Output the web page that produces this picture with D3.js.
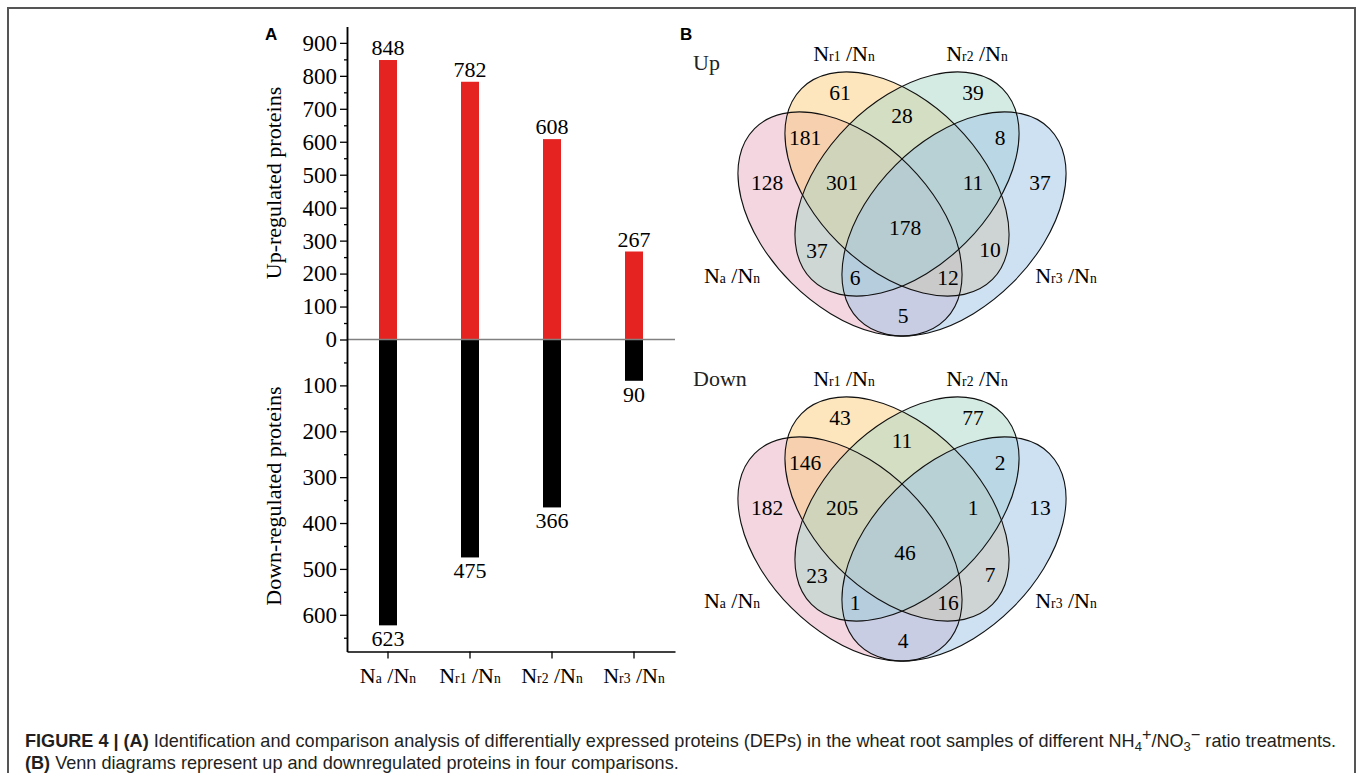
<!DOCTYPE html>
<html>
<head>
<meta charset="utf-8">
<script src="https://cdn.jsdelivr.net/npm/d3@7"></script>
<style>
  html, body { margin: 0; padding: 0; background: #fff; }
  svg { display: block; }
</style>
</head>
<body>
<svg id="fig" width="1357" height="773"></svg>
<script>
// ---------------- DATA ----------------
const comparisons = ["Na", "Nr1", "Nr2", "Nr3"];          // Nx / Nn
const compSubs = ["a", "r1", "r2", "r3"];
const upRegulated = [848, 782, 608, 267];
const downRegulated = [623, 475, 366, 90];
const upTicks = [0, 100, 200, 300, 400, 500, 600, 700, 800, 900];
const downTicks = [100, 200, 300, 400, 500, 600];

// Venn regions: A=Na/Nn, B=Nr1/Nn, C=Nr2/Nn, D=Nr3/Nn
const vennRegions = ["A", "B", "C", "D", "AB", "BC", "CD", "AC", "BD", "AD", "ABC", "BCD", "ACD", "ABD", "ABCD"];
const vennUp =   [128, 61, 39, 37, 181, 28, 8, 37, 10, 5, 301, 11, 6, 12, 178];
const vennDown = [182, 43, 77, 13, 146, 11, 2, 23, 7, 4, 205, 1, 1, 16, 46];
const vennSetSubs = ["a", "r1", "r2", "r3"];

// ---------------- LAYOUT ----------------
const svg = d3.select("#fig");
const serif = '"Liberation Serif", "Times New Roman", serif';
const sans = '"Liberation Sans", Arial, Helvetica, sans-serif';

// frame
svg.append("rect").attr("x", 8).attr("y", 8).attr("width", 1347).attr("height", 820)
  .attr("fill", "none").attr("stroke", "#555").attr("stroke-width", 2);

// ---- Panel A: bar chart ----
const axisX = 347, zeroY = 339.5;
const x = d3.scaleBand().domain(comparisons).range([axisX, 675]).padding(0);
const yUp = d3.scaleLinear().domain([0, 950]).range([zeroY, 26.4]);
const yDown = d3.scaleLinear().domain([0, 680]).range([zeroY, 651.5]);
const barW = 18;

const gA = svg.append("g");

gA.append("text").attr("x", 265).attr("y", 40).attr("font-family", sans)
  .attr("font-weight", "bold").attr("font-size", 17).text("A");

// bars
gA.selectAll("rect.up").data(comparisons).join("rect")
  .attr("x", d => x(d) + x.bandwidth() / 2 - barW / 2)
  .attr("y", (d, i) => yUp(upRegulated[i]))
  .attr("width", barW)
  .attr("height", (d, i) => yUp(0) - yUp(upRegulated[i]))
  .attr("fill", "#e52421");
gA.selectAll("rect.down").data(comparisons).join("rect")
  .attr("x", d => x(d) + x.bandwidth() / 2 - barW / 2)
  .attr("y", yDown(0))
  .attr("width", barW)
  .attr("height", (d, i) => yDown(downRegulated[i]) - yDown(0))
  .attr("fill", "#000");

// zero line
gA.append("line").attr("x1", axisX).attr("x2", 675).attr("y1", zeroY).attr("y2", zeroY)
  .attr("stroke", "#808080").attr("stroke-width", 1.5);

// value labels
gA.selectAll("text.upv").data(comparisons).join("text")
  .attr("x", d => x(d) + x.bandwidth() / 2)
  .attr("y", (d, i) => yUp(upRegulated[i]) - 5)
  .attr("text-anchor", "middle").attr("font-family", serif).attr("font-size", 22)
  .text((d, i) => upRegulated[i]);
gA.selectAll("text.downv").data(comparisons).join("text")
  .attr("x", d => x(d) + x.bandwidth() / 2)
  .attr("y", (d, i) => yDown(downRegulated[i]) + 21)
  .attr("text-anchor", "middle").attr("font-family", serif).attr("font-size", 22)
  .text((d, i) => downRegulated[i]);

// y axes
function styleAxis(g) {
  g.selectAll("path.domain").attr("stroke", "#000").attr("stroke-width", 1.5);
  g.selectAll(".tick line").attr("stroke", "#000").attr("stroke-width", 1.3);
  g.selectAll(".tick text").attr("font-family", serif).attr("font-size", 23).attr("fill", "#000");
}
const upAxis = gA.append("g").attr("transform", `translate(${axisX},0)`)
  .call(d3.axisLeft(yUp).tickValues(upTicks).tickSize(7).tickPadding(3).tickSizeOuter(0));
styleAxis(upAxis);
const downAxis = gA.append("g").attr("transform", `translate(${axisX},0)`)
  .call(d3.axisLeft(yDown).tickValues(downTicks).tickSize(7).tickPadding(3).tickSizeOuter(0));
styleAxis(downAxis);
// minor ticks
const upMinor = gA.append("g").attr("transform", `translate(${axisX},0)`)
  .call(d3.axisLeft(yUp).tickValues(d3.range(50, 900, 100)).tickSize(3).tickFormat("").tickSizeOuter(0));
styleAxis(upMinor);
const downMinor = gA.append("g").attr("transform", `translate(${axisX},0)`)
  .call(d3.axisLeft(yDown).tickValues(d3.range(50, 700, 100)).tickSize(3).tickFormat("").tickSizeOuter(0));
styleAxis(downMinor);

// x axis
const xAxisG = gA.append("g").attr("transform", `translate(0,${yDown.range()[1]})`)
  .call(d3.axisBottom(x).tickSize(7).tickFormat("").tickSizeOuter(0));
styleAxis(xAxisG);

function compLabel(sel, sub) {
  sel.append("tspan").text("N");
  sel.append("tspan").attr("font-size", "0.62em").text(sub);
  sel.append("tspan").text(" /N");
  sel.append("tspan").attr("font-size", "0.62em").text("n");
}
comparisons.forEach((c, i) => {
  const t = gA.append("text").attr("x", x(c) + x.bandwidth() / 2).attr("y", 683)
    .attr("text-anchor", "middle").attr("font-family", serif).attr("font-size", 22);
  compLabel(t, compSubs[i]);
});

// axis titles
gA.append("text").attr("transform", "translate(281,183) rotate(-90)")
  .attr("text-anchor", "middle").attr("font-family", serif).attr("font-size", 22)
  .text("Up-regulated proteins");
gA.append("text").attr("transform", "translate(281,496) rotate(-90)")
  .attr("text-anchor", "middle").attr("font-family", serif).attr("font-size", 22)
  .text("Down-regulated proteins");

// ---- Panel B: Venn diagrams ----
svg.append("text").attr("x", 680).attr("y", 40).attr("font-family", sans)
  .attr("font-weight", "bold").attr("font-size", 17).text("B");

// ellipse geometry, relative to venn origin (symmetry axis x, top y)
const ellipses = [
  { set: "A", cx: -52, cy: 224, rot: 45, fill: "#e8aec2" },
  { set: "B", cx: -5, cy: 184, rot: 45, fill: "#fccb7d" },
  { set: "C", cx: 5, cy: 184, rot: -45, fill: "#a9d8c8" },
  { set: "D", cx: 52, cy: 224, rot: -45, fill: "#9ec3e8" }
];
const rx = 135, ry = 83;
const anchors = {
  A: [-135, 182], B: [-62, 92], C: [71, 92], D: [138, 182],
  AB: [-97, 137], BC: [0, 115], CD: [98, 137], AC: [-85, 250],
  BD: [88, 249], AD: [1, 315], ABC: [-60, 182], BCD: [71, 182],
  ACD: [-47, 277], ABD: [46, 277], ABCD: [3, 227]
};
const setLabelPos = [
  { x: -170, y: 283 },
  { x: -58, y: 61 },
  { x: 75, y: 61 },
  { x: 164, y: 283 }
];

function drawVenn(originX, offsetY, counts, title, titleY) {
  const g = svg.append("g").attr("transform", `translate(${originX},${offsetY})`);
  g.selectAll("ellipse.fill").data(ellipses).join("ellipse")
    .attr("cx", d => d.cx).attr("cy", d => d.cy).attr("rx", rx).attr("ry", ry)
    .attr("transform", d => `rotate(${d.rot},${d.cx},${d.cy})`)
    .attr("fill", d => d.fill).attr("fill-opacity", 0.5).attr("stroke", "none");
  g.selectAll("ellipse.stroke").data(ellipses).join("ellipse")
    .attr("cx", d => d.cx).attr("cy", d => d.cy).attr("rx", rx).attr("ry", ry)
    .attr("transform", d => `rotate(${d.rot},${d.cx},${d.cy})`)
    .attr("fill", "none").attr("stroke", "#111").attr("stroke-width", 1.1);
  g.selectAll("text.cnt").data(vennRegions).join("text")
    .attr("x", d => anchors[d][0]).attr("y", d => anchors[d][1])
    .attr("dy", "0.35em").attr("text-anchor", "middle")
    .attr("font-family", serif).attr("font-size", 21.5)
    .text((d, i) => counts[i]);
  setLabelPos.forEach((p, i) => {
    const t = g.append("text").attr("x", p.x).attr("y", p.y)
      .attr("text-anchor", "middle").attr("font-family", serif).attr("font-size", 22);
    compLabel(t, vennSetSubs[i]);
  });
  g.append("text").attr("x", -209).attr("y", titleY).attr("font-family", serif)
    .attr("font-size", 22).attr("fill", "#222").text(title);
}
drawVenn(902, 0, vennUp, "Up", 70);
drawVenn(902, 325, vennDown, "Down", 61);

// ---- Caption ----
const cap = svg.append("g").attr("font-family", sans).attr("fill", "#231f20").attr("font-size", 18.1);
const l1 = cap.append("text").attr("x", 25).attr("y", 747);
l1.append("tspan").attr("font-weight", "bold").text("FIGURE 4 | (A)");
l1.append("tspan").text(" Identification and comparison analysis of differentially expressed proteins (DEPs) in the wheat root samples of different NH");
l1.append("tspan").attr("font-size", "0.72em").attr("dy", 4).text("4");
l1.append("tspan").attr("font-size", "0.9em").attr("dy", -11).text("+");
l1.append("tspan").attr("dy", 7).text("/NO");
l1.append("tspan").attr("font-size", "0.72em").attr("dy", 4).text("3");
l1.append("tspan").attr("font-size", "0.9em").attr("dy", -11).text("\u2212");
l1.append("tspan").attr("dy", 7).text(" ratio treatments.");
const l2 = cap.append("text").attr("x", 25).attr("y", 769);
l2.append("tspan").attr("font-weight", "bold").text("(B)");
l2.append("tspan").text(" Venn diagrams represent up and downregulated proteins in four comparisons.");
</script>
</body>
</html>
